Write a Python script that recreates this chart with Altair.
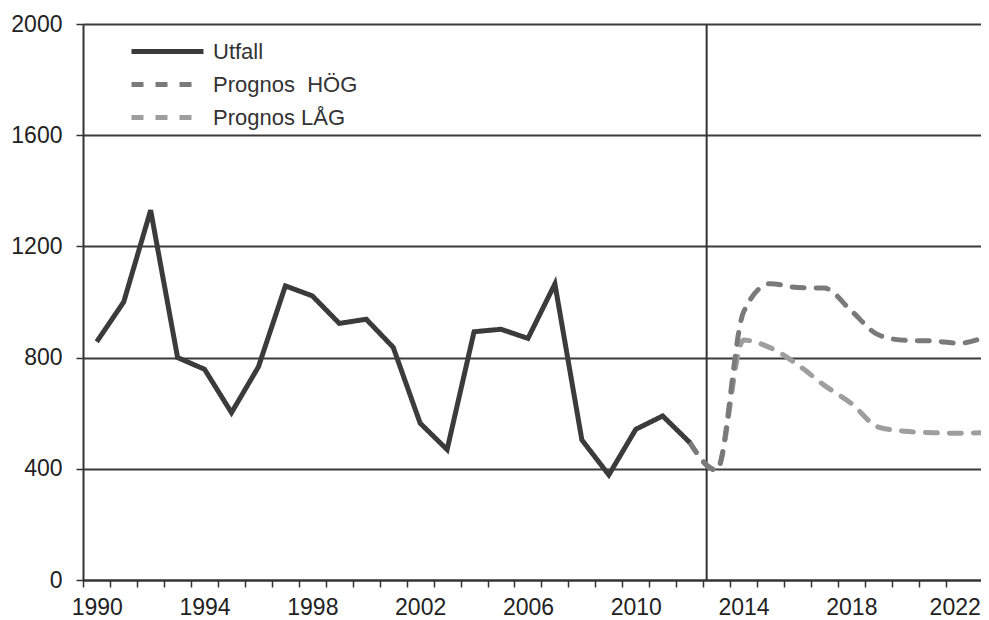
import altair as alt
import pandas as pd

# ---- data ----
years_actual = list(range(1990, 2013))
utfall = [857, 1000, 1330, 800, 758, 602, 767, 1058, 1022, 923, 938, 837,
          564, 469, 893, 902, 869, 1065, 504, 378, 542, 590, 495]

years_prog = list(range(2012, 2024))
prognos_hog = [495, 395, 964, 1066, 1052, 1050, 968, 882, 862, 860, 852, 875]
prognos_lag = [495, 395, 863, 835, 775, 700, 635, 550, 535, 530, 528, 530]

series_names = ["Utfall", "Prognos\u00a0 HÖG", "Prognos LÅG"]
series_colors = ["#3b3b3b", "#7a7a7a", "#9e9e9e"]
series_dash = [[1, 0], [12, 12], [12, 12]]

divider_year = [2012.63]
y_ticks = [0, 400, 800, 1200, 1600, 2000]
x_tick_years = list(range(1990, 2024))

df_actual = pd.DataFrame({"year": years_actual, "value": utfall, "serie": series_names[0]})
df_prog = pd.concat([
    pd.DataFrame({"year": years_prog, "value": prognos_lag, "serie": series_names[2]}),
    pd.DataFrame({"year": years_prog, "value": prognos_hog, "serie": series_names[1]}),
], ignore_index=True)
df_div = pd.DataFrame({"year": divider_year})

FONT = "Liberation Sans"

x_scale = alt.Scale(domain=[1989.49, 2022.81], nice=False, zero=False)
y_scale = alt.Scale(domain=[0, 2000], nice=False)

x_axis = alt.Axis(
    values=x_tick_years, title=None, grid=False,
    labelExpr="(datum.value - 1990) % 4 == 0 ? datum.value : ''",
    tickOffset=-13.47,
    labelOffset={"expr": "datum.value == 2022 ? 9 : 13.47"},
    tickSize=7, tickWidth=1.5, tickColor="#333",
    domainColor="#333", domainWidth=2,
    labelFontSize=23, labelFont=FONT, labelColor="#222", labelPadding=9,
    labelFlush=False, labelOverlap=False,
)
y_axis = alt.Axis(
    values=y_ticks, title=None, grid=True, gridColor="#3a3a3a", gridWidth=1.8,
    format="d",
    tickSize=7, tickWidth=1.5, tickColor="#333",
    domainColor="#333", domainWidth=2,
    labelFontSize=23, labelFont=FONT, labelColor="#222", labelPadding=14,
)

color_enc = alt.Color(
    "serie:N",
    scale=alt.Scale(domain=series_names, range=series_colors),
    legend=alt.Legend(
        orient="none", legendX=46, legendY=13, title=None,
        symbolType="M-1,0H5", symbolSize=576, symbolStrokeWidth=5,
        labelFontSize=22, labelFont=FONT, labelColor="#333", labelOffset=55,
        rowPadding=7,
    ),
)
dash_enc = alt.StrokeDash(
    "serie:N",
    scale=alt.Scale(domain=series_names, range=series_dash),
    legend=None,
)

divider = alt.Chart(df_div).mark_rule(color="#333", strokeWidth=2).encode(
    x=alt.X("year:Q", scale=x_scale, axis=x_axis)
)

prog = alt.Chart(df_prog).mark_line(
    strokeWidth=5, strokeCap="round", interpolate="monotone", clip=True
).encode(
    x=alt.X("year:Q", scale=x_scale, axis=x_axis),
    y=alt.Y("value:Q", scale=y_scale, axis=y_axis),
    color=color_enc,
    strokeDash=dash_enc,
    detail="serie:N",
)

actual = alt.Chart(df_actual).mark_line(
    strokeWidth=5, strokeJoin="miter", clip=True
).encode(
    x=alt.X("year:Q", scale=x_scale, axis=x_axis),
    y=alt.Y("value:Q", scale=y_scale, axis=y_axis),
    color=color_enc,
    strokeDash=dash_enc,
)

chart = alt.layer(divider, prog, actual).properties(
    width=898, height=556,
    autosize=alt.AutoSizeParams(type="none"),
    padding={"left": 75, "top": 16, "right": 0, "bottom": 40},
).configure_view(stroke=None).configure(background="white")

chart.save("out.html", embed_options={"renderer": "svg", "actions": False})
